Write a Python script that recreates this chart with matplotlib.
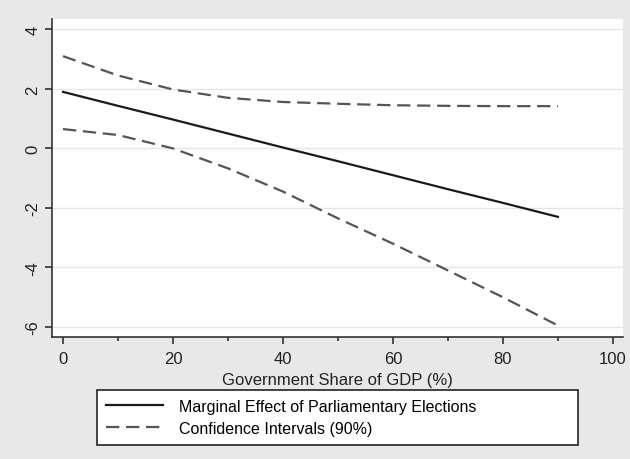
import matplotlib.pyplot as plt
from matplotlib.ticker import MultipleLocator

plt.rcParams['font.family'] = ['Liberation Sans', 'DejaVu Sans']
plt.rcParams['axes.unicode_minus'] = False

# government share of GDP (%)
gov_share = [0, 10, 20, 30, 40, 50, 60, 70, 80, 90]
# marginal effect and 90% confidence bounds
effect = [1.90, 1.43, 0.97, 0.50, 0.03, -0.43, -0.90, -1.37, -1.83, -2.30]
upper_ci = [3.10, 2.45, 1.98, 1.70, 1.56, 1.50, 1.45, 1.43, 1.42, 1.42]
lower_ci = [0.65, 0.45, 0.00, -0.67, -1.45, -2.35, -3.20, -4.10, -5.00, -5.95]

fig = plt.figure(figsize=(6.3, 4.6), dpi=100, facecolor='#e8e8e8')
ax = fig.add_axes([0.0825, 0.265, 0.906, 0.691])
ax.set_facecolor('white')

ax.plot(gov_share, effect, color='#1a1a1a', lw=1.6,
        label='Marginal Effect of Parliamentary Elections')
ax.plot(gov_share, upper_ci, color='#555555', lw=1.6, dashes=(6, 3),
        label='Confidence Intervals (90%)')
ax.plot(gov_share, lower_ci, color='#555555', lw=1.6, dashes=(6, 3))

ax.set_xlim(-2, 101.8)
ax.set_ylim(-6.34, 4.34)
ax.set_xticks([0, 20, 40, 60, 80, 100])
ax.xaxis.set_minor_locator(MultipleLocator(10))
ax.set_yticks([-6, -4, -2, 0, 2, 4])
ax.grid(axis='y', color='#e6e6e6', lw=1)
ax.set_axisbelow(True)

for side in ['top', 'right']:
    ax.spines[side].set_visible(False)
for side in ['left', 'bottom']:
    ax.spines[side].set_color('#333333')
    ax.spines[side].set_linewidth(1.2)

ax.tick_params(axis='both', colors='#333333', labelcolor='#222222',
               labelsize=12, length=5, width=1.2)
ax.tick_params(axis='x', pad=5)
ax.tick_params(axis='x', which='minor', length=3, width=1.2, colors='#333333')
for lbl in ax.get_yticklabels():
    lbl.set_rotation(90)
    lbl.set_va('center')

ax.set_xlabel('Government Share of GDP (%)', fontsize=12, color='#222222',
              labelpad=4)

leg = ax.legend(loc='upper left', bbox_to_anchor=(0.154, 0.15, 0.763, 0.0),
                bbox_transform=fig.transFigure, mode='expand', fontsize=11.5,
                frameon=True, fancybox=False, edgecolor='#222222',
                facecolor='white', framealpha=1,
                handlelength=3.6, handletextpad=1.0, borderpad=0.55,
                labelspacing=0.45, borderaxespad=0)
leg.get_frame().set_linewidth(1.2)

fig.savefig('out.png', dpi=100, facecolor=fig.get_facecolor())
